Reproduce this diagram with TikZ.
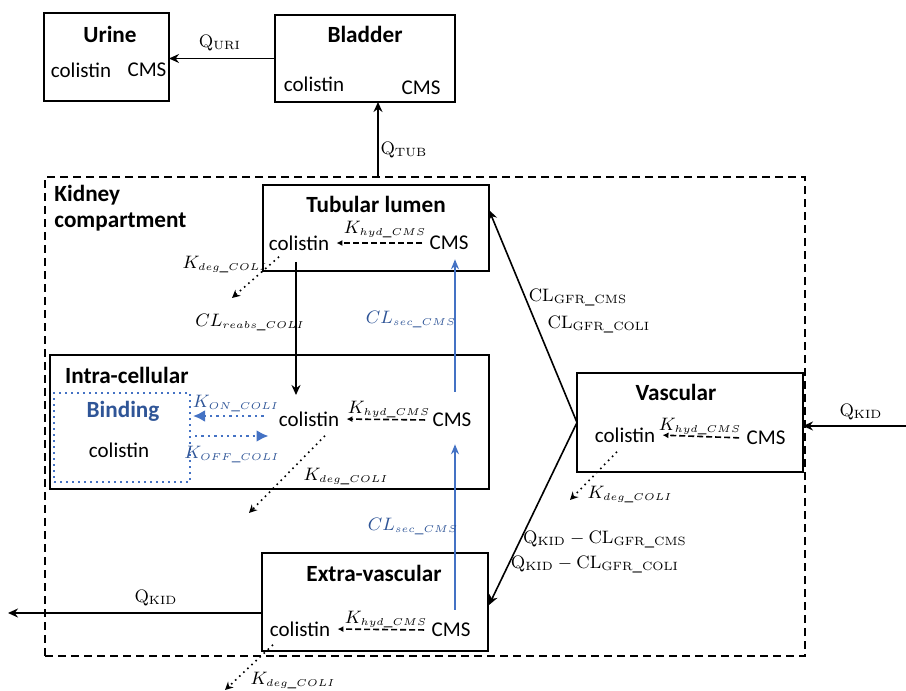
\documentclass[tikz,border=0pt]{standalone}
\usepackage[no-math]{fontspec}
\setmainfont{Carlito}
\usetikzlibrary{arrows.meta,calc}
\DeclareMathSizes{8.7}{8.7}{5}{4}
\DeclareMathSizes{9.4}{9.4}{6.5}{5}
\definecolor{myblue}{RGB}{68,114,196}
\definecolor{darkblue}{RGB}{47,85,151}
\begin{document}
\begin{tikzpicture}[x=0.5pt,y=-0.5pt,
  box/.style={draw,line width=1pt,inner sep=0pt,outer sep=0pt},
  ttl/.style={font=\fontsize{11.6}{13}\selectfont\bfseries},
  txt/.style={font=\fontsize{10.5}{12}\selectfont,inner sep=1.5pt},
  lab/.style={font=\fontsize{8.7}{10}\selectfont,inner sep=1pt},
  qlab/.style={font=\fontsize{9.4}{11}\selectfont,inner sep=1pt},
  blab/.style={lab,text=darkblue},
  arr/.style={line width=0.8pt,-{Stealth[length=5pt,width=4.5pt]}},
  hyd/.style={line width=0.8pt,dash pattern=on 3pt off 1.5pt,-{Latex[length=3pt,width=3pt]}},
  deg/.style={line width=0.8pt,dotted,-{Stealth[length=4pt,width=4pt]}},
  barr/.style={line width=0.75pt,draw=myblue,-{Stealth[length=5pt,width=4pt]}},
  bdot/.style={line width=1.2pt,draw=myblue,dotted,-{Latex[length=6pt,width=6pt]},color=myblue},
]
\useasboundingbox (0,0) rectangle (906,691);

% boxes
\node[box,minimum width=62.5pt,minimum height=44pt] (urine) at (106.5,57) {};
\node[box,minimum width=90pt,minimum height=43.5pt] (bladder) at (365,58.5) {};
\node[draw,line width=1pt,dash pattern=on 4pt off 2.5pt,inner sep=0pt,outer sep=0pt,minimum width=380pt,minimum height=239.5pt] (kidney) at (425,416.5) {};
\node[box,fill=white,minimum width=113pt,minimum height=43pt] (tub) at (376,228) {};
\node[box,minimum width=219.5pt,minimum height=67pt] (intra) at (269.5,422) {};
\node[draw=myblue,line width=1pt,dotted,inner sep=0pt,outer sep=0pt,minimum width=68pt,minimum height=44.5pt] (binding) at (122,437.5) {};
\node[box,fill=white,minimum width=113pt,minimum height=49.5pt] (vasc) at (690,422.5) {};
\node[box,fill=white,minimum width=113pt,minimum height=49pt] (extra) at (375,602) {};

% Urine / Bladder
\node[ttl] (urinet) at (110,34) {Urine};
\node[txt] (ucol) at (81,70) {colistin};
\node[txt] (ucms) at (147,70) {CMS};
\node[ttl] (bladdert) at (365,34) {Bladder};
\node[txt] (blcol) at (314,84) {colistin};
\node[txt] (blcms) at (421,88) {CMS};

\draw[arr] (bladder.west) -- (bladder.west -| urine.east);
\node[qlab] (quri) at (220,43) {$\mathrm{Q}_{\mathrm{URI}}$};

\coordinate (qtubstart) at (378,177);
\draw[arr] (qtubstart) -- (qtubstart |- bladder.south);
\node[qlab] (qtub) at (404,150) {$\mathrm{Q}_{\mathrm{TUB}}$};

% Kidney label
\node[ttl,align=left,anchor=north west,inner sep=0pt] (kidt) at (54,185) {Kidney\\compartment};

% Tubular lumen
\node[ttl] (tubt) at (376,204) {Tubular lumen};
\node[txt] (tcol) at (299,243) {colistin};
\node[txt] (tcms) at (449,243) {CMS};
\draw[hyd,shorten >=2pt,shorten <=2pt] (tcms.west) -- (tcol.east);
\node[lab] (thyd) at (385,230) {$K_{hyd\_CMS}$};
\coordinate (tdegend) at (232,298);
\draw[deg] ([shift={(-20,3)}]tcol.south) -- (tdegend);
\node[lab] (tdeg) at (225,265) {$K_{deg\_COLI}$};

% reabsorption
\coordinate (reabsend) at (296,395);
\draw[arr] ([yshift=-4pt]tcol.south -| reabsend) -- (reabsend);
\node[lab] (reabs) at (250,323) {$CL_{reabs\_COLI}$};

% Intra-cellular
\node[ttl,anchor=west] (intrat) at (58,375) {Intra-cellular};
\node[ttl,text=darkblue] (bindt) at (123,411) {Binding};
\node[txt] (bcol) at (119,450) {colistin};
\node[txt] (icol) at (309,419) {colistin};
\node[txt] (icms) at (452,420) {CMS};
\draw[hyd,shorten >=2pt,shorten <=2pt] (icms.west) -- (icol.east);
\node[lab] (ihyd) at (389,410) {$K_{hyd\_CMS}$};
\draw[bdot] ([shift={(-12,-3)}]icol.west) -- ([shift={(3,-21.5)}]binding.east);
\draw[bdot] ([shift={(5,-1.5)}]binding.east) -- ([shift={(-7,17)}]icol.west);
\node[blab] (kon) at (236,404) {$K_{ON\_COLI}$};
\node[blab] (koff) at (232,455) {$K_{OFF\_COLI}$};
\coordinate (idegend) at (249,513);
\draw[deg] ([shift={(16,6)}]icol.south) -- (idegend);
\node[lab] (ideg) at (346,477) {$K_{deg\_COLI}$};

% Vascular
\node[ttl] (vasct) at (676,392) {Vascular};
\node[txt] (vcol) at (625,435) {colistin};
\node[txt] (vcms) at (766,438) {CMS};
\draw[hyd,shorten >=2pt,shorten <=2pt] (vcms.west) -- (vcol.east);
\node[lab] (vhyd) at (700,427) {$K_{hyd\_CMS}$};
\coordinate (vdegend) at (570,500);
\draw[deg] ([shift={(-8,6)}]vcol.south) -- (vdegend);
\node[lab] (vdeg) at (630,495) {$K_{deg\_COLI}$};

\coordinate (qkidin) at (906,426);
\draw[arr] (qkidin) -- (qkidin -| vasc.east);
\node[qlab] (qkin) at (861,412) {$\mathrm{Q}_{\mathrm{KID}}$};

% GFR
\coordinate (tubin) at (489,210);
\coordinate (extin) at (489,605);
\draw[arr] (vasc.west) -- (tubin);
\draw[arr] (vasc.west) -- (extin);
\node[qlab] (gfr1) at (578,298) {$\mathrm{CL}_{\mathrm{GFR\_CMS}}$};
\node[qlab] (gfr2) at (599,325) {$\mathrm{CL}_{\mathrm{GFR\_COLI}}$};
\node[qlab] (gfr3) at (605,540) {$\mathrm{Q}_{\mathrm{KID}}-\mathrm{CL}_{\mathrm{GFR\_CMS}}$};
\node[qlab] (gfr4) at (595,565) {$\mathrm{Q}_{\mathrm{KID}}-\mathrm{CL}_{\mathrm{GFR\_COLI}}$};

% Extra-vascular
\node[ttl] (extrat) at (374,573) {Extra-vascular};
\node[txt] (ecol) at (300,629) {colistin};
\node[txt] (ecms) at (451,630) {CMS};
\draw[hyd,shorten >=2pt,shorten <=2pt] (ecms.west) -- (ecol.east);
\node[lab] (ehyd) at (386,620) {$K_{hyd\_CMS}$};
\coordinate (edegend) at (225,690);
\draw[deg] ([shift={(-27,5)}]ecol.south) -- (edegend);
\node[lab] (edeg) at (293,681) {$K_{deg\_COLI}$};

% secretion (blue)
\coordinate (secx) at (455,0);
\draw[barr] ([yshift=9pt]icms.north -| secx) -- ([yshift=-3pt]tcms.south -| secx);
\node[blab] (sec1) at (411,320) {$CL_{sec\_CMS}$};
\draw[barr] ([yshift=5pt]ecms.north -| secx) -- ([yshift=-7pt]icms.south -| secx);
\node[blab] (sec2) at (413,527) {$CL_{sec\_CMS}$};

\coordinate (qkidout) at (8,613);
\draw[arr] (qkidout -| extra.west) -- (qkidout);
\node[qlab] (qko) at (156,598) {$\mathrm{Q}_{\mathrm{KID}}$};
\end{tikzpicture}
\end{document}
